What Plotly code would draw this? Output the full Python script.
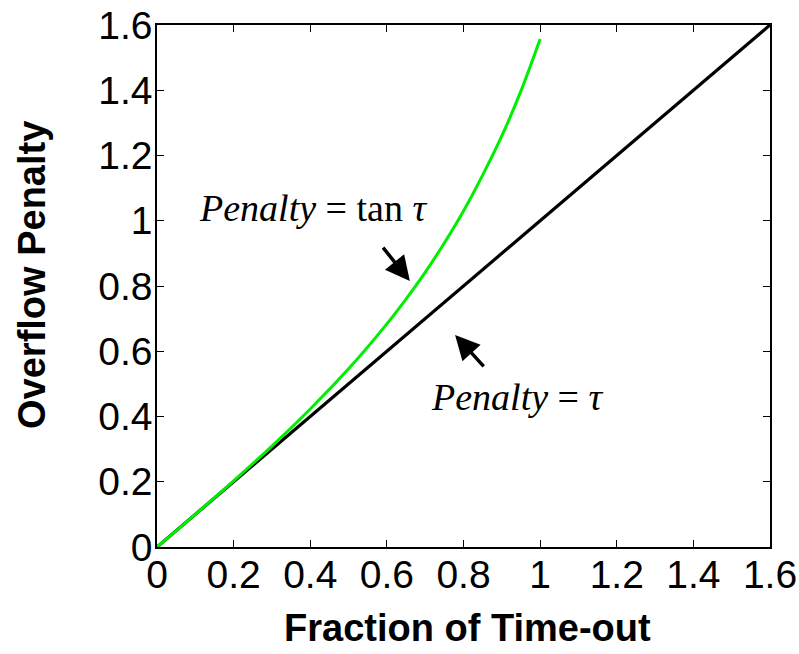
import plotly.graph_objects as go

# Data
x_linear = [0.0, 1.6]
y_linear = [0.0, 1.6]

x_tan = [0.0, 0.1, 0.2, 0.3, 0.4, 0.5, 0.6, 0.65, 0.7, 0.75, 0.8, 0.85, 0.9, 0.95, 1.0]
y_tan = [0.0, 0.10, 0.203, 0.309, 0.423, 0.546, 0.684, 0.760, 0.842, 0.932, 1.030, 1.140, 1.260, 1.398, 1.557]

tick_vals = [0, 0.2, 0.4, 0.6, 0.8, 1.0, 1.2, 1.4, 1.6]
tick_text = ["0", "0.2", "0.4", "0.6", "0.8", "1", "1.2", "1.4", "1.6"]

fig = go.Figure()
fig.add_trace(go.Scatter(x=x_linear, y=y_linear, mode="lines",
                         line=dict(color="black", width=3.2), showlegend=False))
fig.add_trace(go.Scatter(x=x_tan, y=y_tan, mode="lines", line_shape="spline",
                         line=dict(color="#00ee00", width=3), showlegend=False))

axis_common = dict(
    range=[0, 1.6], tickvals=tick_vals, ticktext=tick_text,
    ticks="inside", ticklen=7, tickcolor="black", tickwidth=1,
    showline=True, linecolor="black", linewidth=1.5, mirror="ticks",
    showgrid=False, zeroline=False, automargin=False, ticklabeloverflow="allow",
    tickfont=dict(family="Liberation Sans, Arial", size=39, color="black"),
)

fig.update_xaxes(**axis_common, ticklabelstandoff=-8)
fig.update_yaxes(**axis_common, ticklabelstandoff=-5)

title_font = dict(family="Liberation Sans, Arial", size=38, color="black")
fig.add_annotation(xref="paper", yref="paper", x=0.506, y=-0.155, xanchor="center", yanchor="middle",
                   text="<b>Fraction of Time-out</b>", showarrow=False, font=title_font)
fig.add_annotation(xref="paper", yref="paper", x=-0.204, y=0.521, xanchor="center", yanchor="middle",
                   textangle=-90, text="<b>Overflow Penalty</b>", showarrow=False, font=title_font)

tfont = dict(family="Liberation Serif, Times New Roman", size=38, color="black")
fig.add_annotation(x=0.408, y=1.04, text="<i>Penalty</i> = tan <i>τ</i>", showarrow=False, font=tfont)
fig.add_annotation(x=0.940, y=0.46, text="<i>Penalty</i> = <i>τ</i>", showarrow=False, font=tfont)

fig.add_annotation(x=0.660, y=0.815, ax=-28, ay=-35, axref="pixel", ayref="pixel", text="",
                   showarrow=True, arrowhead=2, arrowsize=1.4, arrowwidth=3.5, arrowcolor="black")
fig.add_annotation(x=0.778, y=0.650, ax=30, ay=33, axref="pixel", ayref="pixel", text="",
                   showarrow=True, arrowhead=2, arrowsize=1.4, arrowwidth=3.5, arrowcolor="black")

# plot area at x 157..770, y 25..547 of a 799x654 page
fig.update_layout(width=799, height=654,
                  margin=dict(l=157, r=29, t=25, b=107),
                  plot_bgcolor="white", paper_bgcolor="white")

fig.write_html("out.html", config={"displayModeBar": False},
               post_script="document.body.style.margin='0';document.body.style.overflow='hidden';")
